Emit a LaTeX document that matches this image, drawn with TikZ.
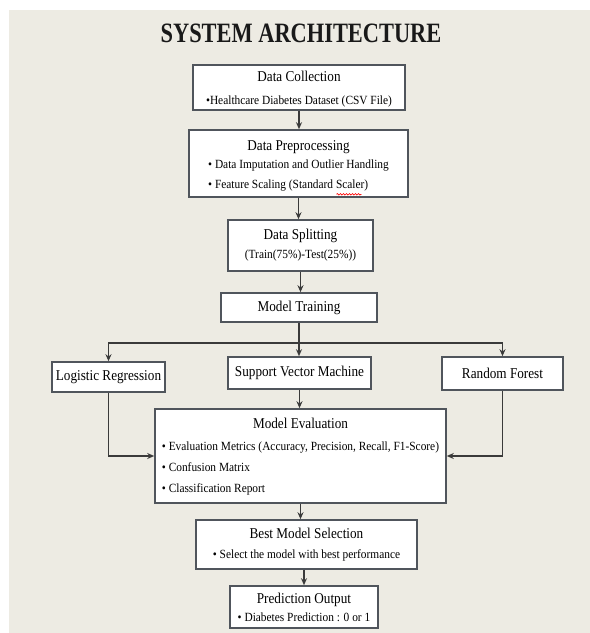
\documentclass[tikz,border=0pt]{standalone}
\usepackage{fontspec}
\usetikzlibrary{arrows.meta,decorations.pathmorphing}
\setmainfont{Liberation Serif}
\newfontfamily\bigheadfont[FakeStretch=0.8]{Liberation Serif}
\newfontfamily\boxheadfont[FakeStretch=0.88]{Liberation Serif}
\newfontfamily\boxbodyfont[FakeStretch=0.91]{Liberation Serif}
\definecolor{bgc}{HTML}{EDEBE3}
\definecolor{boxline}{HTML}{50555C}
\definecolor{arrowc}{HTML}{3A3A3A}
\newcommand\bh[1]{{\boxheadfont\fontsize{15}{20}\selectfont #1}}
\tikzset{
  box/.style={draw=boxline, fill=white, line width=1.6pt, rectangle, inner sep=0pt,
    align=center, text=black, font=\boxbodyfont\fontsize{12.5}{20}\selectfont},
  hbox/.style={box, font=\boxheadfont\fontsize{15}{20}\selectfont},
  arr/.style={draw=arrowc, line width=1.5pt, -{Stealth[length=7pt,width=6pt]}},
  ln/.style={draw=arrowc, line width=1.5pt},
  squiggle/.style={draw=red, line width=0.6pt, decorate, decoration={snake, amplitude=0.8pt, segment length=3pt}}
}
\begin{document}
\begin{tikzpicture}[x=1pt,y=-1pt]
\useasboundingbox (0,0) rectangle (590,633);
\fill[bgc] (9,10) rectangle (590,633);
\node[font=\bigheadfont\bfseries\fontsize{28}{30}\selectfont, text=black!90] (title) at (301,33) {SYSTEM ARCHITECTURE};

\node[box, minimum width=212pt, minimum height=45pt] (dc) at (299,87.5)
  {\rule{0pt}{13pt}\bh{Data Collection}\\[3pt] •Healthcare Diabetes Dataset (CSV File)};
\node[box, minimum width=219pt, minimum height=67pt] (dp) at (298.5,163.5)
  {\rule{0pt}{18pt}\bh{Data Preprocessing}\\[-1pt]
   \begin{tabular}{@{}l@{}}• Data Imputation and Outlier Handling\\ • Feature Scaling (Standard Scaler)\end{tabular}};
\draw[squiggle] ([shift={(38,-3.5)}]dp.south) -- ++(25,0);
\node[box, minimum width=145pt, minimum height=51pt] (ds) at (300.5,245.5)
  {\bh{Data Splitting}\\[-1pt] (Train(75\%)-Test(25\%))};
\node[hbox, minimum width=156pt, minimum height=29pt] (mt) at (299,307.5) {Model Training};

\node[hbox, minimum width=113pt, minimum height=30pt] (lr) at (108.5,377) {Logistic Regression};
\node[hbox, minimum width=143pt, minimum height=32pt] (svm) at (299.5,373) {Support Vector Machine};
\node[hbox, minimum width=121pt, minimum height=33pt] (rf) at (502.5,373.5) {Random Forest};

\node[box, minimum width=291pt, minimum height=94pt] (me) at (300.5,456)
  {\rule{0pt}{16pt}\bh{Model Evaluation}\\[6pt]
   \renewcommand\arraystretch{1.05}%
   \begin{tabular}{@{}l@{}}• Evaluation Metrics (Accuracy, Precision, Recall, F1-Score)\\ • Confusion Matrix\\ • Classification Report\end{tabular}};
\node[box, minimum width=221pt, minimum height=49pt] (bms) at (306.5,544.5)
  {\bh{Best Model Selection}\\ • Select the model with best performance};
\node[box, minimum width=148pt, minimum height=42pt] (po) at (304,607)
  {\bh{Prediction Output}\\[-2pt] • Diabetes Prediction : 0 or 1};

\draw[arr] (dc.south) -- (dc.south |- dp.north);
\draw[arr] (dp.south) -- (dp.south |- ds.north);
\draw[arr] (ds.south) -- (ds.south |- mt.north);
\draw[ln] (mt.south) -- ++(0,20) coordinate (split);
\draw[arr] (split) -| (lr.north);
\draw[arr] (split) -| (rf.north);
\draw[arr] (split) -- (split |- svm.north);
\draw[arr] (svm.south) -- (svm.south |- me.north);
\draw[arr] (lr.south) |- (me.west);
\draw[arr] (rf.south) |- (me.east);
\draw[arr] (me.south) -- (me.south |- bms.north);
\draw[arr] (po.north |- bms.south) -- (po.north);
\end{tikzpicture}
\end{document}
